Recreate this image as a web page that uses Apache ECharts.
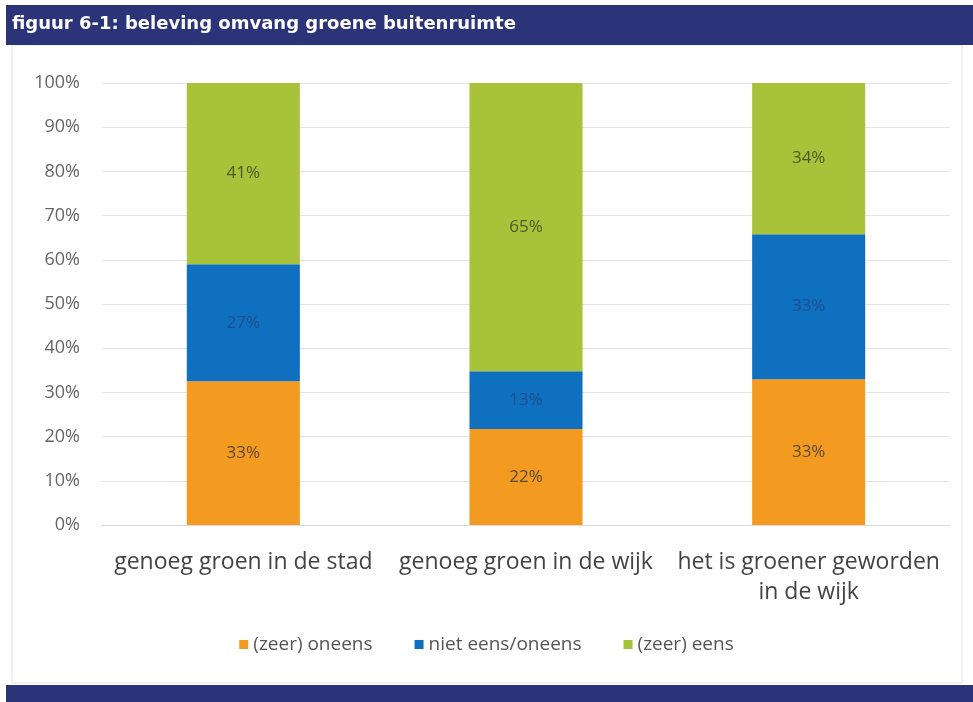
<!DOCTYPE html>
<html>
<head>
<meta charset="utf-8">
<script src="https://cdn.jsdelivr.net/npm/echarts@6/dist/echarts.min.js"></script>
<style>
  html, body { margin: 0; padding: 0; background: #fff; }
  #chart { width: 973px; height: 702px; }
</style>
</head>
<body>
<div id="chart"></div>
<script>
// categories and values (percent)
var categories = ['genoeg groen in de stad', 'genoeg groen in de wijk', 'het is groener geworden\nin de wijk'];
var oneens = [32.5, 21.7, 33.0];
var neutraal = [26.5, 13.1, 32.8];
var eens = [41.0, 65.2, 34.2];
var seriesNames = ['(zeer) oneens', 'niet eens/oneens', '(zeer) eens'];
var colors = ['#f39a21', '#1070c0', '#a8c23a'];

var chart = echarts.init(document.getElementById('chart'));

function mkSeries(name, data, color, labelColor) {
  return {
    name: name,
    type: 'bar',
    stack: 'tot',
    barWidth: '40%',
    data: data,
    itemStyle: { color: color },
    label: {
      show: true,
      position: 'inside',
      fontFamily: 'Open Sans',
      fontSize: 17,
      color: labelColor,
      formatter: function (p) { return Math.round(p.value) + '%'; }
    }
  };
}

chart.setOption({
  animation: false,
  color: colors,
  graphic: [
    { type: 'rect', shape: { x: 12, y: 45, width: 950, height: 638 },
      style: { fill: '#fff', stroke: '#e2e2e2', lineWidth: 1 }, z: -10 },
    { type: 'rect', shape: { x: 6, y: 5, width: 967, height: 40 },
      style: { fill: '#2b3479' }, z: -5 },
    { type: 'text', left: 12, top: 15,
      style: { text: 'figuur 6-1: beleving omvang groene buitenruimte',
        fill: '#fff', font: 'bold 18px "DejaVu Sans"' } },
    { type: 'rect', shape: { x: 6, y: 685, width: 967, height: 17 },
      style: { fill: '#2b3479' }, z: -5 }
  ],
  grid: { left: 102, right: 23, top: 83, bottom: 177, containLabel: false },
  legend: {
    bottom: 43,
    left: 'center',
    itemWidth: 9,
    itemHeight: 9,
    itemGap: 42,
    icon: 'rect',
    textStyle: { fontFamily: 'Open Sans', fontSize: 19, color: '#555' },
    data: seriesNames
  },
  xAxis: {
    type: 'category',
    data: categories,
    axisLine: { lineStyle: { color: '#d9d9d9' } },
    axisTick: { show: false },
    axisLabel: { fontFamily: 'Open Sans', fontSize: 23, color: '#444', margin: 22, lineHeight: 30, interval: 0 }
  },
  yAxis: {
    type: 'value',
    min: 0,
    max: 100,
    interval: 10,
    axisLine: { show: false },
    axisTick: { show: false },
    splitLine: { lineStyle: { color: '#e4e4e4' } },
    axisLabel: { fontFamily: 'Open Sans', fontSize: 18, color: '#666', margin: 22,
      formatter: '{value}%' }
  },
  series: [
    mkSeries(seriesNames[0], oneens, colors[0], '#5a4a30'),
    mkSeries(seriesNames[1], neutraal, colors[1], '#1c4f8c'),
    mkSeries(seriesNames[2], eens, colors[2], '#4d5a2a')
  ]
});
</script>
</body>
</html>
